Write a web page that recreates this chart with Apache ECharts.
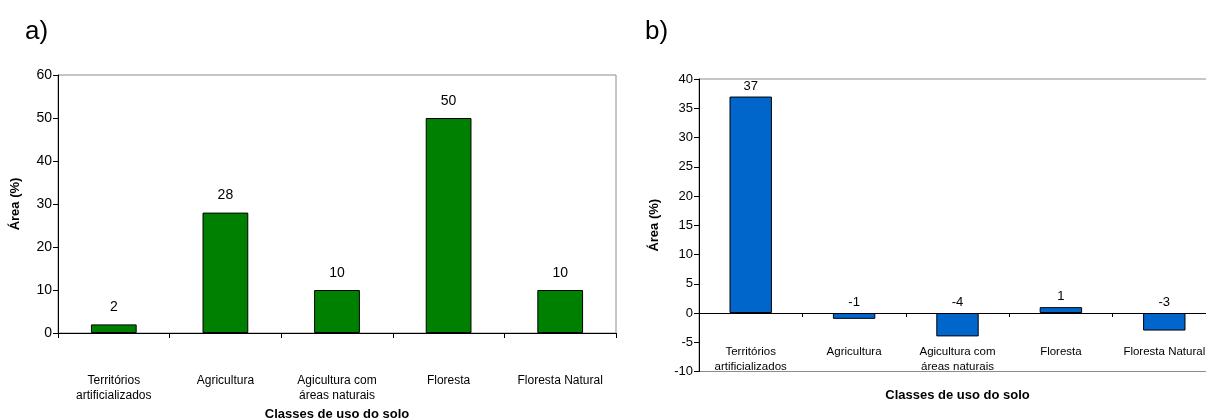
<!DOCTYPE html>
<html>
<head>
<meta charset="utf-8">
<script src="https://cdn.jsdelivr.net/npm/echarts@6/dist/echarts.min.js"></script>
<style>html,body{margin:0;padding:0;background:#fff}#c{width:1206px;height:419px}</style>
</head>
<body>
<div id="c"></div>
<script>
const categories = ['Territórios\nartificializados', 'Agricultura', 'Agicultura com\náreas naturais', 'Floresta', 'Floresta Natural'];
const valuesA = [2, 28, 10, 50, 10];
const valuesB = [37, -1, -4, 1, -3];
const panelTitles = ['a)', 'b)'];
const yAxisTitle = 'Área (%)';
const xAxisTitle = 'Classes de uso do solo';

const FONT = '"Liberation Sans", Arial, sans-serif';
const chart = echarts.init(document.getElementById('c'), null, {renderer: 'canvas'});

const axisTxt = {color: '#000', fontFamily: FONT};
chart.setOption({
  animation: false,
  backgroundColor: '#fff',
  title: [
    {text: panelTitles[0], left: 20, top: 14, textStyle: {fontSize: 26, fontWeight: 'normal', color: '#000', fontFamily: FONT}},
    {text: panelTitles[1], left: 640, top: 14, textStyle: {fontSize: 26, fontWeight: 'normal', color: '#000', fontFamily: FONT}}
  ],
  grid: [
    {left: 58, right: 590, top: 75, bottom: 86, show: true, borderColor: '#8c8c8c', borderWidth: 1, backgroundColor: 'transparent', containLabel: false, outerBoundsMode: 'none'},
    {left: 699, right: -10, top: 79, bottom: 47.5, show: true, borderColor: '#8c8c8c', borderWidth: 1, backgroundColor: 'transparent', containLabel: false, outerBoundsMode: 'none'}
  ],
  xAxis: [
    {
      type: 'category', gridIndex: 0, data: categories,
      axisLine: {lineStyle: {color: '#000', width: 1}},
      axisTick: {show: true, length: 5, lineStyle: {color: '#000'}},
      axisLabel: Object.assign({fontSize: 12, lineHeight: 15, margin: 40, interval: 0}, axisTxt),
      name: xAxisTitle, nameLocation: 'middle', nameGap: 72,
      nameTextStyle: Object.assign({fontSize: 13, fontWeight: 'bold'}, axisTxt)
    },
    {
      type: 'category', gridIndex: 1, data: categories,
      axisLine: {onZero: true, lineStyle: {color: '#000', width: 1}},
      axisTick: {show: true, length: 4, lineStyle: {color: '#000'}},
      axisLabel: Object.assign({fontSize: 11.5, lineHeight: 15, margin: -27, interval: 0}, axisTxt),
      name: xAxisTitle, nameLocation: 'middle', nameGap: 17,
      nameTextStyle: Object.assign({fontSize: 13, fontWeight: 'bold'}, axisTxt)
    }
  ],
  yAxis: [
    {
      type: 'value', gridIndex: 0, min: 0, max: 60, interval: 10,
      axisLine: {show: true, lineStyle: {color: '#000', width: 1}},
      axisTick: {show: true, length: 5, lineStyle: {color: '#000'}},
      splitLine: {show: false},
      axisLabel: Object.assign({fontSize: 14, margin: 6}, axisTxt),
      name: yAxisTitle, nameLocation: 'middle', nameGap: 36,
      nameTextStyle: Object.assign({fontSize: 13, fontWeight: 'bold'}, axisTxt)
    },
    {
      type: 'value', gridIndex: 1, min: -10, max: 40, interval: 5,
      axisLine: {show: true, onZero: false, lineStyle: {color: '#000', width: 1}},
      axisTick: {show: true, length: 5, lineStyle: {color: '#000'}},
      splitLine: {show: false},
      axisLabel: Object.assign({fontSize: 13, margin: 6}, axisTxt),
      name: yAxisTitle, nameLocation: 'middle', nameGap: 38,
      nameTextStyle: Object.assign({fontSize: 13, fontWeight: 'bold'}, axisTxt)
    }
  ],
  series: [
    {
      type: 'bar', xAxisIndex: 0, yAxisIndex: 0, data: valuesA, barWidth: '41%',
      itemStyle: {color: '#008000', borderColor: '#000', borderWidth: 1},
      label: {show: true, position: 'top', distance: 10, fontSize: 14, color: '#000', fontFamily: FONT}
    },
    {
      type: 'bar', xAxisIndex: 1, yAxisIndex: 1, data: valuesB, barWidth: '41%',
      itemStyle: {color: '#0066CC', borderColor: '#000', borderWidth: 1},
      label: {show: true, position: 'top', distance: 4, fontSize: 13, color: '#000', fontFamily: FONT}
    }
  ]
});
</script>
</body>
</html>
